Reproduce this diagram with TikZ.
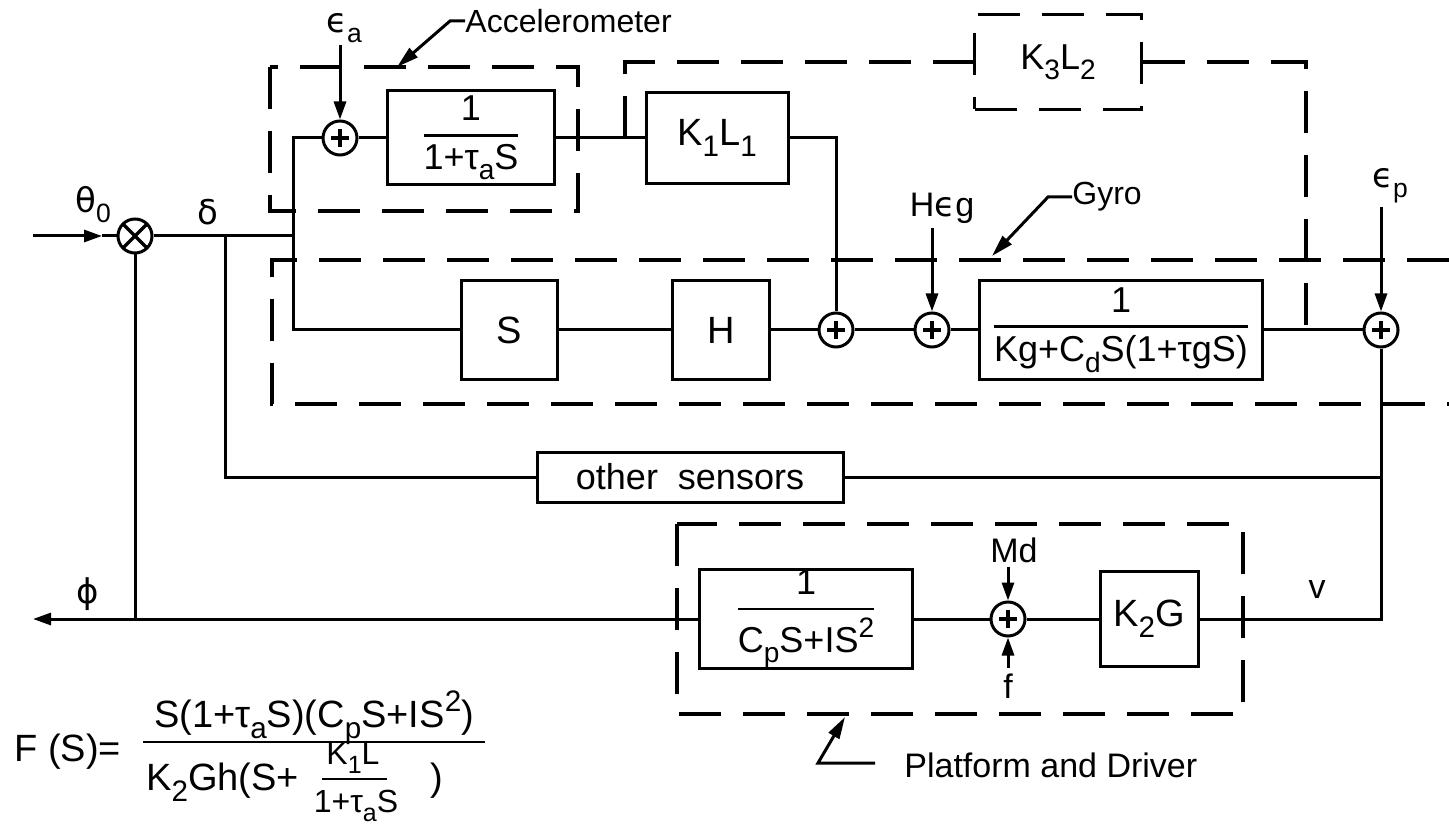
\documentclass[tikz,border=0pt]{standalone}
\usepackage{amsmath}
\usepackage{fontspec}
\setmainfont{Liberation Sans}
\newfontfamily\gk{DejaVu Sans}
\usetikzlibrary{arrows.meta}
\newcommand\lep{{\gk ϵ}}
\newcommand\lphi{{\gk ϕ}}
\newcommand\lsb[1]{\raisebox{-0.55ex}{\scalebox{0.78}{#1}}}
\newcommand\lsp[1]{\raisebox{0.75ex}{\scalebox{0.78}{#1}}}
\newcommand\lfr[2]{\ensuremath{\genfrac{}{}{1.3pt}{0}{\text{#1}}{\text{#2}}}}
\begin{document}
\begin{tikzpicture}[x=0.5pt,y=-0.5pt,
  ln/.style={line width=1.5pt},
  sig/.style={line width=1.5pt,-{Triangle[length=9pt,width=6pt]}},
  ptr/.style={line width=1.5pt,-{Triangle[length=11pt,width=6pt]}},
  blk/.style={draw,line width=1.5pt,inner sep=0pt,font=\fontsize{19}{21}\selectfont},
  fblk/.style={draw,line width=1.5pt,inner sep=0pt,font=\fontsize{18}{20}\selectfont},
  dbox/.style={draw,line width=1.8pt,dash pattern=on 21pt off 11pt,inner sep=0pt,font=\fontsize{18}{20}\selectfont},
  dsh/.style={line width=1.8pt,dash pattern=on 21pt off 11pt},
  psum/.style={circle,draw,line width=1.5pt,minimum size=17pt,inner sep=0pt,
    path picture={\draw[line width=1.7pt]
      ([xshift=-4.5pt]path picture bounding box.center) -- ([xshift=4.5pt]path picture bounding box.center)
      ([yshift=-4.5pt]path picture bounding box.center) -- ([yshift=4.5pt]path picture bounding box.center);}},
  xsum/.style={circle,draw,line width=1.5pt,minimum size=17pt,inner sep=0pt,
    path picture={\draw[line width=1.7pt]
      ([shift={(-6pt,-6pt)}]path picture bounding box.center) -- ([shift={(6pt,6pt)}]path picture bounding box.center)
      ([shift={(-6pt,6pt)}]path picture bounding box.center) -- ([shift={(6pt,-6pt)}]path picture bounding box.center);}},
  lbl/.style={inner sep=0pt,font=\fontsize{17}{19}\selectfont},
  tlbl/.style={inner sep=0pt,anchor=west,font=\fontsize{16}{19}\selectfont},
  fm/.style={inner sep=0pt,font=\fontsize{19}{21}\selectfont},
  fm2/.style={inner sep=0pt,font=\fontsize{16}{18}\selectfont},
  fbar/.style={line width=1.4pt}
]
\useasboundingbox (0,0) rectangle (1449,828);

% ---- dashed regions
\draw[dsh] (270,67) rectangle (578,211);
\draw[dsh] (1449,260) -- (272,260) -- (272,404) -- (1449,404);
\draw[dsh] (677,524) rectangle (1243,714);

% ---- blocks
\node[xsum] (sx) at (135,236) {};
\node[psum] (sa) at (340,138) {};
\node[fblk,minimum width=83.5pt,minimum height=47pt] (acc) at (471,138) {\lfr{1}{1+τ\lsb{a}S}};
\node[blk,minimum width=71pt,minimum height=45.5pt] (k1) at (717,138) {K\lsb{1}L\lsb{1}};
\node[dbox,minimum width=83.5pt,minimum height=47.5pt] (k3) at (1058,62) {K\lsb{3}L\lsb{2}};
\node[blk,minimum width=48pt,minimum height=49pt] (sb) at (509,330) {S};
\node[blk,minimum width=48.5pt,minimum height=49pt] (hb) at (721,330) {H};
\node[psum] (s1) at (836,330) {};
\node[psum] (s2) at (932,330) {};
\node[fblk,minimum width=141.5pt,minimum height=49.5pt] (gy) at (1121,330) {\lfr{1}{Kg+C\lsb{d}S(1+τgS)}};
\node[psum] (s3) at (1381,330) {};
\node[blk,font=\fontsize{18}{20}\selectfont,minimum width=153pt,minimum height=25pt] (os) at (690,477) {other\ \ sensors};
\node[fblk,minimum width=106.5pt,minimum height=48pt] (pl) at (806,619) {\lfr{1}{C\lsb{p}S+IS\lsp{2}}};
\node[psum] (s4) at (1008,619) {};
\node[blk,minimum width=49pt,minimum height=47.5pt] (kg) at (1149,619) {K\lsb{2}G};

% ---- coordinates
\coordinate (in) at (33,236);
\coordinate (inarr) at (102,236);
\coordinate (busA) at (293,236);
\coordinate (busB) at (293,330);
\coordinate (brA) at (225,236);
\coordinate (kb) at (625,138);
\coordinate (gk) at (1306,330);
\coordinate (out) at (33,619);
\coordinate (fb) at (135,619);
\coordinate (ea) at (340,45);
\coordinate (hg) at (932,228);
\coordinate (ep) at (1381,207);
\coordinate (md) at (1008,567);
\coordinate (ff) at (1008,668);

% ---- signal lines
\draw[sig] (in) -- (inarr);
\draw[ln] (inarr) -- (sx.west);
\draw[ln] (sx.east) -- (busA);
\draw[ln] (sa.west) -| (busB) -- (sb.west);
\draw[ln] (brA) |- (os.west);
\draw[ln] (sa.east) -- (acc.west);
\draw[ln] (acc.east) -- (k1.west);
\draw[ln] (k1.east) -| (s1.north);
\draw[ln] (sb.east) -- (hb.west);
\draw[ln] (hb.east) -- (s1.west);
\draw[ln] (s1.east) -- (s2.west);
\draw[ln] (s2.east) -- (gy.west);
\draw[ln] (gy.east) -- (s3.west);
\draw[ln] (s3.south) |- (kg.east);
\draw[ln] (os.east) -- (os.east -| s3);
\draw[ln] (kg.west) -- (s4.east);
\draw[ln] (s4.west) -- (pl.east);
\draw[sig] (pl.west) -- (out);
\draw[ln] (sx.south) -- (fb);
\draw[sig] (ea) -- (sa.north);
\draw[sig] (hg) -- (s2.north);
\draw[sig] (ep) -- (s3.north);
\draw[sig] (md) -- (s4.north);
\draw[sig] (ff) -- (s4.south);
\draw[dsh] (kb) |- (k3.west);
\draw[dsh] (k3.east) -| (gk);

% ---- labels
\node[lbl] (lth) at (93,205) {{\gk θ}\lsb{0}};
\node[lbl] (ldl) at (208,212) {{\gk δ}};
\node[lbl] (lph) at (88,594) {\lphi};
\node[lbl] (lv) at (1317,590) {v};
\node[lbl] (lmd) at (1014,550) {Md};
\node[lbl] (lf) at (1008,686) {f};
\node[lbl] (lea) at (344,28) {\lep\lsb{a}};
\node[lbl] (lhg) at (942,208) {H\lep g};
\node[lbl] (lep) at (1390,186) {\lep\lsb{p}};

% ---- pointer labels
\node[tlbl] (tacc) at (465,21) {Accelerometer};
\draw[ptr] (tacc.west) -- ++(-15,0) -- (397,67);
\node[tlbl] (tgy) at (1072,197) {Gyro};
\draw[ptr] (tgy.west) -- ++(-24,0) -- (992,256);
\node[tlbl,font=\fontsize{17}{20}\selectfont] (tpl) at (904,765) {Platform and Driver};
\coordinate (pla) at (875,763);
\draw[ptr] (pla) -- (818,763) -- (845,717);

% ---- formula
\node[fm,anchor=west] (fsl) at (14,752) {F (S)=};
\node[fm,anchor=base] (fnum) at (314,727) {S(1+τ\lsb{a}S)(C\lsb{p}S+IS\lsp{2})};
\draw[fbar] (143,742) -- (485,742);
\node[fm,anchor=base west] (fden) at (146,790) {K\lsb{2}Gh(S+};
\node[fm2,anchor=base] (fin) at (353,764) {K\lsb{1}L};
\draw[fbar] (322,779) -- (387,779);
\node[fm2,anchor=base] (fid) at (356,812) {1+τ\lsb{a}S};
\node[fm,anchor=base] (fcl) at (437,790) {)};
\end{tikzpicture}
\end{document}
